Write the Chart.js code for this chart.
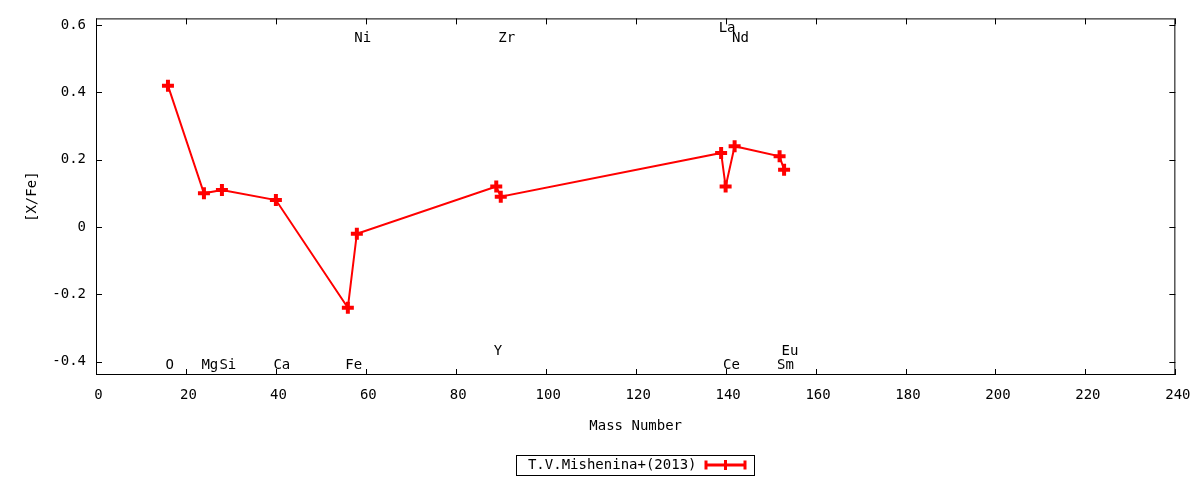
<!DOCTYPE html>
<html>
<head>
<meta charset="utf-8">
<script src="https://cdn.jsdelivr.net/npm/chart.js@4.4.1/dist/chart.umd.min.js"></script>
<style>
  html, body { margin: 0; padding: 0; background: #fff; }
  #wrap { width: 1200px; height: 480px; }
</style>
</head>
<body>
<div id="wrap"><canvas id="myChart"></canvas></div>
<script>
// datos
const elements   = ['O', 'Mg', 'Si', 'Ca', 'Fe', 'Ni', 'Y', 'Zr', 'La', 'Ce', 'Nd', 'Sm', 'Eu'];
const massNumber = [16, 24, 28, 40, 56, 58, 89, 90, 139, 140, 142, 152, 153];
const xFe        = [0.42, 0.10, 0.11, 0.08, -0.24, -0.02, 0.12, 0.09, 0.22, 0.12, 0.24, 0.21, 0.17];
const labelY     = [-0.41, -0.41, -0.41, -0.41, -0.41, 0.56, -0.37, 0.56, 0.59, -0.41, 0.56, -0.41, -0.37];
const xTicks = [0, 20, 40, 60, 80, 100, 120, 140, 160, 180, 200, 220, 240];
const yTicks = [-0.4, -0.2, 0, 0.2, 0.4, 0.6];
const seriesName = 'T.V.Mishenina+(2013)';

const FONT = 'DejaVu Sans Mono';
const RED = '#ff0000';

// marco estilo gnuplot con ticks hacia dentro en los cuatro lados
const framePlugin = {
  id: 'frame',
  beforeDatasetsDraw(chart) {
    const { ctx, chartArea: a, scales: { x, y } } = chart;
    ctx.save();
    ctx.strokeStyle = '#000';
    ctx.lineWidth = 1;
    ctx.strokeRect(a.left + 0.5, a.top + 0.5, a.right - a.left - 1, a.bottom - a.top - 1);
    ctx.beginPath();
    xTicks.forEach(v => {
      const px = Math.round(x.getPixelForValue(v)) + 0.5;
      ctx.moveTo(px, a.bottom); ctx.lineTo(px, a.bottom - 6);
      ctx.moveTo(px, a.top); ctx.lineTo(px, a.top + 6);
    });
    yTicks.forEach(v => {
      const py = Math.round(y.getPixelForValue(v)) + 0.5;
      ctx.moveTo(a.left, py); ctx.lineTo(a.left + 6, py);
      ctx.moveTo(a.right, py); ctx.lineTo(a.right - 6, py);
    });
    ctx.stroke();
    ctx.restore();
  },
  afterDraw(chart) {
    const { ctx, chartArea: a, scales: { x, y } } = chart;
    ctx.save();
    // etiquetas de los elementos
    ctx.font = '14px "' + FONT + '"';
    ctx.fillStyle = '#000';
    ctx.textAlign = 'left';
    ctx.textBaseline = 'middle';
    elements.forEach((el, i) => {
      ctx.fillText(el, x.getPixelForValue(massNumber[i]) - 2.5, y.getPixelForValue(labelY[i]));
    });
    // leyenda con caja
    const cx = (a.left + a.right) / 2;
    const bx = Math.round(cx - 120) + 0.5, by = 455.5;
    ctx.strokeStyle = '#000';
    ctx.lineWidth = 1;
    ctx.strokeRect(bx, by, 238, 20);
    ctx.textAlign = 'right';
    ctx.fillText(seriesName, bx + 180, by + 10);
    const ly = by + 9.5, x0 = bx + 188, x1 = bx + 230;
    ctx.strokeStyle = RED;
    ctx.lineWidth = 3;
    ctx.beginPath();
    ctx.moveTo(x0, ly); ctx.lineTo(x1, ly);
    ctx.moveTo(x0 + 1.5, ly - 4.5); ctx.lineTo(x0 + 1.5, ly + 4.5);
    ctx.moveTo(x1 - 1.5, ly - 4.5); ctx.lineTo(x1 - 1.5, ly + 4.5);
    ctx.moveTo((x0 + x1) / 2, ly - 5); ctx.lineTo((x0 + x1) / 2, ly + 5);
    ctx.stroke();
    ctx.restore();
  }
};

new Chart(document.getElementById('myChart'), {
  type: 'scatter',
  data: {
    datasets: [{
      label: seriesName,
      data: massNumber.map((m, i) => ({ x: m, y: xFe[i] })),
      showLine: true,
      borderColor: RED,
      backgroundColor: RED,
      borderWidth: 2,
      pointStyle: 'cross',
      pointRadius: 6,
      pointHoverRadius: 6,
      pointBorderWidth: 4,
      pointBorderColor: RED
    }]
  },
  options: {
    responsive: true,
    maintainAspectRatio: false,
    animation: false,
    events: [],
    layout: { padding: { top: 17, right: 22, left: 0, bottom: 0 } },
    plugins: {
      legend: { display: false },
      tooltip: { enabled: false }
    },
    scales: {
      x: {
        type: 'linear',
        min: 0,
        max: 240,
        afterBuildTicks: s => { s.ticks = xTicks.map(v => ({ value: v })); },
        afterFit: s => { s.height = 105; },
        grid: { display: false, drawTicks: false },
        border: { display: false },
        ticks: { color: '#000', font: { family: FONT, size: 14 }, padding: 12, labelOffset: 2.5, maxRotation: 0, autoSkip: false },
        title: { display: true, text: 'Mass Number', color: '#000', font: { family: FONT, size: 14 }, padding: { top: 0, bottom: 45 } }
      },
      y: {
        type: 'linear',
        min: -0.44,
        max: 0.62,
        afterBuildTicks: s => { s.ticks = yTicks.map(v => ({ value: v })); },
        afterFit: s => { s.width = 96; },
        grid: { display: false, drawTicks: false },
        border: { display: false },
        ticks: {
          color: '#000',
          font: { family: FONT, size: 14 },
          padding: 10,
          callback: v => String(Math.round(v * 10) / 10)
        },
        title: { display: true, text: '[X/Fe]', color: '#000', font: { family: FONT, size: 14 }, padding: { top: 24, bottom: 0 } }
      }
    }
  },
  plugins: [framePlugin]
});
</script>
</body>
</html>
